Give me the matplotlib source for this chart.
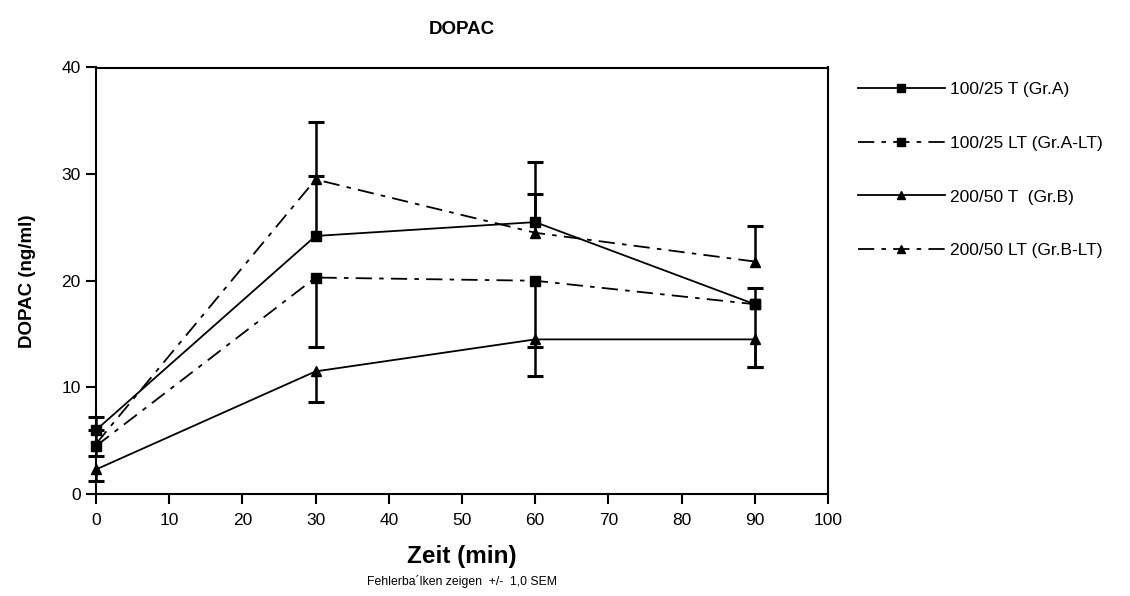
import matplotlib
matplotlib.use("Agg")
import matplotlib.pyplot as plt
import numpy as np

plt.rcParams['font.family'] = ['Liberation Sans', 'DejaVu Sans']

# ---- data ----
zeit = [0, 30, 60, 90]
labels = ["100/25 T (Gr.A)", "100/25 LT (Gr.A-LT)", "200/50 T  (Gr.B)", "200/50 LT (Gr.B-LT)"]
a_mean = [6.0, 24.2, 25.5, 17.8]
a_up = [1.2, 5.6, 5.6, 1.5]
alt_mean = [4.5, 20.3, 20.0, 17.8]
alt_low = [0.9, 6.5, 8.9, 5.9]
b_mean = [2.3, 11.5, 14.5, 14.5]
b_low = [1.1, 2.9, 0.7, 2.6]
blt_mean = [4.7, 29.5, 24.5, 21.8]
blt_up = [1.3, 5.4, 3.6, 3.3]

xticks = [0, 10, 20, 30, 40, 50, 60, 70, 80, 90, 100]
yticks = [0, 10, 20, 30, 40]

W, H = 1130, 596
fig = plt.figure(figsize=(W / 100, H / 100), dpi=100)
ax = fig.add_axes([96 / W, 1 - 494 / H, (828 - 96) / W, (494 - 67.5) / H])

dashdot = (0, (9, 4, 2.5, 4))
series = [
    (a_mean, a_up, 'up', 's', '-'),
    (alt_mean, alt_low, 'down', 's', dashdot),
    (b_mean, b_low, 'down', '^', '-'),
    (blt_mean, blt_up, 'up', '^', dashdot),
]

handles = []
for (m, e, d, mk, ls), lab in zip(series, labels):
    m = np.array(m)
    e = np.array(e)
    if d == 'up':
        ends = m + e
    else:
        ends = m - e
    ax.vlines(zeit, np.minimum(m, ends), np.maximum(m, ends), colors='black',
              linewidth=1.8, clip_on=False, zorder=3)
    ax.plot(zeit, ends, ls='none', marker='_', markersize=11, markeredgewidth=2.2,
            color='black', clip_on=False, zorder=3)
    h, = ax.plot(zeit, m, color='black', linestyle=ls, linewidth=1.3, marker=mk,
                 markersize=7 if mk == 's' else 7.5, markerfacecolor='black',
                 markeredgecolor='black', clip_on=False, zorder=4, label=lab)
    handles.append(h)

ax.set_xlim(0, 100)
ax.set_ylim(0, 40)
ax.set_xticks(xticks)
ax.set_yticks(yticks)
ax.tick_params(direction='out', length=7, width=1.5, labelsize=12.5, pad=4)
ax.tick_params(axis='x', pad=7)
for s in ax.spines.values():
    s.set_linewidth(1.5)

fig.text(462 / W, 1 - 30 / H, "DOPAC", ha='center', va='center', fontsize=13.5,
         fontweight='bold')
fig.text(28 / W, 1 - 281 / H, "DOPAC (ng/ml)", ha='center', va='center',
         rotation=90, fontsize=13.5, fontweight='bold')
fig.text(462 / W, 1 - 556 / H, "Zeit (min)", ha='center', va='center',
         fontsize=17.5, fontweight='bold')
fig.text(462 / W, 1 - 581 / H, "Fehlerba´lken zeigen  +/-  1,0 SEM", ha='center',
         va='center', fontsize=8.8)

fig.legend(handles=handles, labels=labels, loc='upper left',
           bbox_to_anchor=(858 / W, 1 - 82 / H), bbox_transform=fig.transFigure,
           frameon=False, fontsize=12.5, handlelength=5.0, handletextpad=0.3,
           labelspacing=2.22, borderpad=0, borderaxespad=0, markerscale=0.85)

fig.savefig("out.png", dpi=100)
